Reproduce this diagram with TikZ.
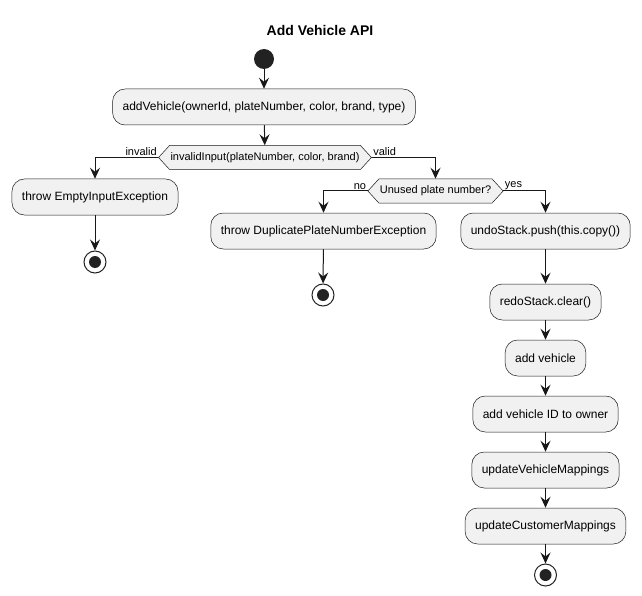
\documentclass[tikz,border=0pt]{standalone}
\usepackage{fontspec}
\setmainfont{Liberation Sans}
\usetikzlibrary{arrows.meta,shapes.symbols}
\definecolor{boxfill}{HTML}{F1F1F1}
\definecolor{boxline}{HTML}{181818}
\definecolor{dotgray}{HTML}{222222}

\begin{document}
\begin{tikzpicture}[x=1pt,y=-1pt,
  act/.style={draw=boxline,line width=0.5pt,fill=boxfill,rounded corners=12.5pt,
    minimum height=36pt,inner xsep=10pt,font=\fontsize{12}{14}\selectfont},
  test/.style={draw=boxline,line width=0.5pt,fill=boxfill,signal,signal to=west and east,
    signal pointer angle=95,minimum height=24pt,inner xsep=1pt,font=\fontsize{11}{13}\selectfont},
  startdot/.style={circle,fill=dotgray,minimum size=20pt,inner sep=0pt},
  stopdot/.style={circle,draw=dotgray,fill=white,line width=1pt,minimum size=22pt,inner sep=0pt,
    path picture={\fill[dotgray] (path picture bounding box.center) circle (6pt);}},
  flow/.style={-{Stealth[length=11pt,width=10pt,inset=4pt]},line width=1pt,draw=boxline},
  lbl/.style={font=\fontsize{11}{13}\selectfont,inner sep=1pt}
]
  \useasboundingbox (0,0) rectangle (642,596);
  \node[font=\bfseries\fontsize{14}{16}\selectfont] (title) at (320,30) {Add Vehicle API};

  \node[startdot] (start) at (264,59) {};
  \node[act] (add) at (264,107) {addVehicle(ownerId, plateNumber, color, brand, type)};
  \node[test] (d1) at (265,157.5) {invalidInput(plateNumber, color, brand)};
  \node[act] (err1) at (95,197) {throw EmptyInputException};
  \node[stopdot] (stop1) at (95,262) {};
  \node[test] (d2) at (435.5,191) {Unused plate number?};
  \node[act] (err2) at (323.5,231) {throw DuplicatePlateNumberException};
  \node[stopdot] (stop2) at (323,295) {};
  \node[act] (push) at (545.5,231) {undoStack.push(this.copy())};
  \node[act] (redo) at (545.5,302) {redoStack.clear()};
  \node[act] (addv) at (545.5,358) {add vehicle};
  \node[act] (addid) at (545.5,414) {add vehicle ID to owner};
  \node[act] (updv) at (545.5,470) {updateVehicleMappings};
  \node[act] (updc) at (545.5,526) {updateCustomerMappings};
  \node[stopdot] (stop3) at (545.5,575) {};

  % branches
  \draw[flow] (d1.west) -| node[lbl,pos=0,above left] {invalid} (err1.north);
  \draw[flow] (d1.east) -| node[lbl,pos=0,above right] {valid} (d2.north);
  \draw[flow] (d2.west) -| node[lbl,pos=0,above left] {no} (err2.north);
  \draw[flow] (d2.east) -| node[lbl,pos=0,above right] {yes} (push.north);

  % straight flow
  \draw[flow] (start) -- (add);
  \draw[flow] (add) -- (d1);
  \draw[flow] (err1) -- (stop1);
  \draw[flow] (err2) -- (stop2);
  \draw[flow] (push) -- (redo);
  \draw[flow] (redo) -- (addv);
  \draw[flow] (addv) -- (addid);
  \draw[flow] (addid) -- (updv);
  \draw[flow] (updv) -- (updc);
  \draw[flow] (updc) -- (stop3);
\end{tikzpicture}
\end{document}
